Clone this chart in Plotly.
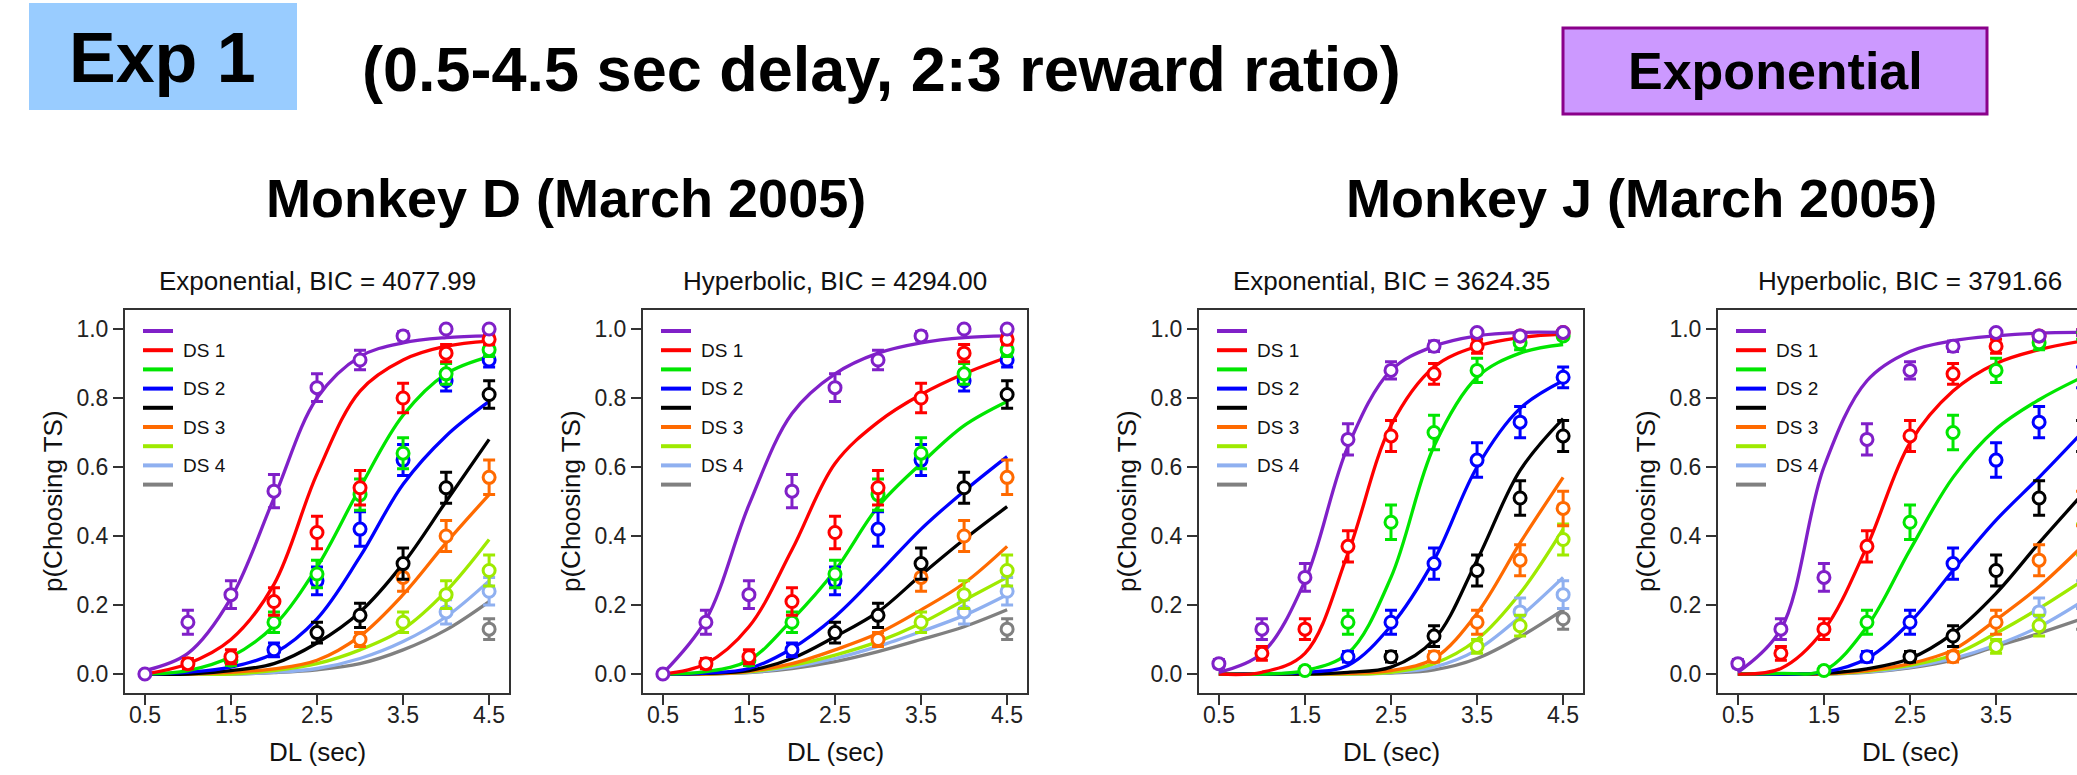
import plotly.graph_objects as go

# ---------------- data ----------------
DELAYS = [0.5, 1.0, 1.5, 2.0, 2.5, 3.0, 3.5, 4.0, 4.5]
X_TICKS = [0.5, 1.5, 2.5, 3.5, 4.5]
Y_TICKS = [0.0, 0.2, 0.4, 0.6, 0.8, 1.0]
COLORS = ["#8020C8", "#FF0000", "#00E600", "#0000FF", "#000000",
          "#FF6A00", "#9EEA00", "#8FB0F0", "#808080"]
LEGEND_LABELS = ["", "DS 1", "", "DS 2", "", "DS 3", "", "DS 4", ""]

# observed choice proportions (series i starts at DELAYS[i])
MONKEY_D_P = [
    [0.0, 0.15, 0.23, 0.53, 0.83, 0.91, 0.98, 1.0, 1.0],
    [0.03, 0.05, 0.21, 0.41, 0.54, 0.80, 0.93, 0.97],
    [0.04, 0.15, 0.29, 0.52, 0.64, 0.87, 0.94],
    [0.07, 0.27, 0.42, 0.62, 0.85, 0.91],
    [0.12, 0.17, 0.32, 0.54, 0.81],
    [0.10, 0.28, 0.40, 0.57],
    [0.15, 0.23, 0.30],
    [0.18, 0.24],
    [0.13],
]
MONKEY_D_ERR = [
    [0.005, 0.035, 0.04, 0.048, 0.04, 0.028, 0.012, 0.005, 0.005],
    [0.015, 0.02, 0.04, 0.047, 0.05, 0.043, 0.025, 0.015],
    [0.015, 0.03, 0.04, 0.045, 0.045, 0.03, 0.02],
    [0.02, 0.04, 0.05, 0.045, 0.03, 0.02],
    [0.03, 0.035, 0.045, 0.045, 0.04],
    [0.02, 0.04, 0.045, 0.05],
    [0.03, 0.04, 0.045],
    [0.035, 0.04],
    [0.03],
]
MONKEY_J_P = [
    [0.03, 0.13, 0.28, 0.68, 0.88, 0.95, 0.99, 0.98, 0.99],
    [0.06, 0.13, 0.37, 0.69, 0.87, 0.95, 0.98, 0.99],
    [0.01, 0.15, 0.44, 0.70, 0.88, 0.96, 0.98],
    [0.05, 0.15, 0.32, 0.62, 0.73, 0.86],
    [0.05, 0.11, 0.30, 0.51, 0.69],
    [0.05, 0.15, 0.33, 0.48],
    [0.08, 0.14, 0.39],
    [0.18, 0.23],
    [0.16],
]
MONKEY_J_ERR = [
    [0.012, 0.03, 0.04, 0.045, 0.025, 0.015, 0.008, 0.01, 0.008],
    [0.02, 0.03, 0.045, 0.045, 0.03, 0.02, 0.01, 0.008],
    [0.01, 0.035, 0.05, 0.05, 0.035, 0.02, 0.01],
    [0.015, 0.035, 0.045, 0.05, 0.045, 0.03],
    [0.015, 0.03, 0.045, 0.05, 0.045],
    [0.015, 0.035, 0.045, 0.05],
    [0.02, 0.03, 0.045],
    [0.04, 0.04],
    [0.03],
]

# fitted model curves, read at DELAYS
FIT_D_EXP = [
    [0.01, 0.06, 0.22, 0.51, 0.80, 0.92, 0.96, 0.975, 0.98],
    [0.0, 0.03, 0.10, 0.26, 0.58, 0.82, 0.91, 0.95, 0.965],
    [0.0, 0.01, 0.05, 0.14, 0.31, 0.54, 0.75, 0.87, 0.92],
    [0.0, 0.005, 0.02, 0.06, 0.16, 0.34, 0.55, 0.69, 0.79],
    [0.0, 0.0, 0.01, 0.03, 0.09, 0.18, 0.32, 0.50, 0.68],
    [0.0, 0.0, 0.005, 0.015, 0.04, 0.11, 0.23, 0.38, 0.52],
    [0.0, 0.0, 0.0, 0.01, 0.03, 0.07, 0.13, 0.24, 0.39],
    [0.0, 0.0, 0.0, 0.005, 0.016, 0.045, 0.094, 0.166, 0.27],
    [0.0, 0.0, 0.0, 0.004, 0.012, 0.03, 0.07, 0.128, 0.21],
]
FIT_D_HYP = [
    [0.002, 0.157, 0.49, 0.755, 0.87, 0.93, 0.96, 0.975, 0.98],
    [0.0, 0.03, 0.137, 0.36, 0.61, 0.73, 0.81, 0.87, 0.918],
    [0.0, 0.007, 0.04, 0.157, 0.30, 0.485, 0.61, 0.72, 0.79],
    [0.0, 0.003, 0.016, 0.074, 0.166, 0.29, 0.42, 0.53, 0.63],
    [0.0, 0.002, 0.01, 0.045, 0.108, 0.18, 0.287, 0.39, 0.485],
    [0.0, 0.0, 0.008, 0.03, 0.07, 0.118, 0.186, 0.263, 0.37],
    [0.0, 0.0, 0.006, 0.025, 0.055, 0.094, 0.147, 0.214, 0.28],
    [0.0, 0.0, 0.005, 0.02, 0.045, 0.08, 0.123, 0.17, 0.23],
    [0.0, 0.0, 0.004, 0.016, 0.036, 0.065, 0.10, 0.137, 0.186],
]
FIT_J_EXP = [
    [0.005, 0.06, 0.27, 0.66, 0.88, 0.95, 0.98, 0.99, 0.99],
    [0.0, 0.005, 0.06, 0.35, 0.72, 0.89, 0.95, 0.975, 0.985],
    [0.0, 0.0, 0.01, 0.06, 0.28, 0.66, 0.86, 0.93, 0.955],
    [0.0, 0.0, 0.005, 0.025, 0.14, 0.33, 0.60, 0.77, 0.85],
    [0.0, 0.0, 0.0, 0.005, 0.02, 0.10, 0.33, 0.59, 0.74],
    [0.0, 0.0, 0.0, 0.002, 0.01, 0.045, 0.176, 0.38, 0.57],
    [0.0, 0.0, 0.0, 0.0, 0.005, 0.03, 0.10, 0.234, 0.42],
    [0.0, 0.0, 0.0, 0.0, 0.004, 0.02, 0.07, 0.166, 0.28],
    [0.0, 0.0, 0.0, 0.0, 0.003, 0.012, 0.045, 0.108, 0.186],
]
FIT_J_HYP = [
    [0.005, 0.13, 0.60, 0.85, 0.935, 0.966, 0.98, 0.988, 0.99],
    [0.0, 0.016, 0.128, 0.37, 0.67, 0.82, 0.90, 0.94, 0.965],
    [0.0, 0.002, 0.01, 0.137, 0.36, 0.57, 0.71, 0.795, 0.86],
    [0.0, 0.0, 0.005, 0.045, 0.15, 0.30, 0.446, 0.57, 0.70],
    [0.0, 0.0, 0.002, 0.015, 0.045, 0.118, 0.234, 0.38, 0.52],
    [0.0, 0.0, 0.0, 0.01, 0.03, 0.07, 0.157, 0.253, 0.37],
    [0.0, 0.0, 0.0, 0.008, 0.025, 0.055, 0.118, 0.19, 0.27],
    [0.0, 0.0, 0.0, 0.006, 0.02, 0.045, 0.084, 0.137, 0.21],
    [0.0, 0.0, 0.0, 0.005, 0.018, 0.04, 0.08, 0.118, 0.16],
]

PANEL_TITLES = ["Exponential, BIC = 4077.99", "Hyperbolic, BIC = 4294.00",
                "Exponential, BIC = 3624.35", "Hyperbolic, BIC = 3791.66"]

# ---------------- layout geometry (pixels) ----------------
W, H = 2077, 775
FONT = "Liberation Sans, Arial, sans-serif"
PANEL_PX = [(125, 509), (643, 1027), (1199, 1583), (1718, 2077)]
BOX_TOP, BOX_BOT = 310, 693
PX_PER_UNIT = 384 / (4.731 - 0.269)
X0 = 0.269
Y_RANGE = [-0.055, 1.055]


def px(x):
    return x / W


def py(y):
    return 1 - y / H


panels = [
    (FIT_D_EXP, MONKEY_D_P, MONKEY_D_ERR),
    (FIT_D_HYP, MONKEY_D_P, MONKEY_D_ERR),
    (FIT_J_EXP, MONKEY_J_P, MONKEY_J_ERR),
    (FIT_J_HYP, MONKEY_J_P, MONKEY_J_ERR),
]

fig = go.Figure()
shapes = []
annotations = []
TICK_FONT = dict(family=FONT, size=23, color="#222222")
axis_style = dict(showline=True, linecolor="#333333", linewidth=2, ticks="outside",
                  ticklen=10, tickwidth=2, tickcolor="#333333", showgrid=False,
                  zeroline=False, tickfont=TICK_FONT, fixedrange=True)

for k, (fit, pts, err) in enumerate(panels):
    n = k + 1
    xa = "x" if n == 1 else f"x{n}"
    ya = "y" if n == 1 else f"y{n}"
    left, right = PANEL_PX[k]
    wpx = right - left

    for i in reversed(range(9)):
        fig.add_trace(go.Scatter(
            x=DELAYS, y=fit[i], mode="lines", xaxis=xa, yaxis=ya,
            line=dict(color=COLORS[i], width=3.3, shape="spline", smoothing=1.0),
            showlegend=False, hoverinfo="skip"))
    for i in reversed(range(9)):
        fig.add_trace(go.Scatter(
            x=DELAYS[i:], y=pts[i], mode="markers", xaxis=xa, yaxis=ya,
            marker=dict(symbol="circle", size=12, color="white",
                        line=dict(color=COLORS[i], width=3)),
            error_y=dict(type="data", array=err[i], color=COLORS[i],
                         thickness=3, width=6),
            showlegend=False, cliponaxis=False))

    xr = [X0, X0 + wpx / PX_PER_UNIT]
    fig.layout[f"xaxis{'' if n == 1 else n}"] = dict(
        axis_style, domain=[px(left), px(right)], range=xr, anchor=ya,
        tickvals=X_TICKS, mirror=True, showticklabels=False)
    fig.layout[f"yaxis{'' if n == 1 else n}"] = dict(
        axis_style, domain=[py(BOX_BOT), py(BOX_TOP)], range=Y_RANGE, anchor=xa,
        tickvals=Y_TICKS, tickformat=".1f", mirror=(n < 4))

    # x tick labels placed on the axis scale
    for t in X_TICKS:
        annotations.append(dict(xref=xa, yref="paper", x=t, y=py(715),
                                text=f"{t:.1f}", showarrow=False,
                                xanchor="center", yanchor="middle",
                                font=TICK_FONT))

    # in-plot legend
    for i in range(9):
        yy = (BOX_BOT - (331 + 19.2 * i)) / (BOX_BOT - BOX_TOP)
        shapes.append(dict(type="line", xref=f"{xa} domain", yref=f"{ya} domain",
                           x0=18 / wpx, x1=48 / wpx, y0=yy, y1=yy,
                           line=dict(color=COLORS[i], width=4)))
        if LEGEND_LABELS[i]:
            annotations.append(dict(xref=f"{xa} domain", yref=f"{ya} domain",
                                    x=56 / wpx, y=yy, xanchor="left", yanchor="middle",
                                    text=LEGEND_LABELS[i], showarrow=False,
                                    font=dict(family=FONT, size=19, color="#111111")))

    cx = left + 192
    annotations.append(dict(xref="paper", yref="paper", x=px(cx), y=py(281),
                            text=PANEL_TITLES[k], showarrow=False,
                            xanchor="center", yanchor="middle",
                            font=dict(family=FONT, size=26, color="#111111")))
    annotations.append(dict(xref="paper", yref="paper", x=px(cx), y=py(752),
                            text="DL (sec)", showarrow=False,
                            xanchor="center", yanchor="middle",
                            font=dict(family=FONT, size=26, color="#111111")))
    annotations.append(dict(xref="paper", yref="paper", x=px(left - 72), y=py(501),
                            text="p(Choosing TS)", showarrow=False, textangle=-90,
                            xanchor="center", yanchor="middle",
                            font=dict(family=FONT, size=26, color="#111111")))

# header boxes
shapes.append(dict(type="rect", xref="paper", yref="paper", x0=px(29), x1=px(297),
                   y0=py(110), y1=py(3), fillcolor="#99CCFF", line=dict(width=0),
                   layer="below"))
shapes.append(dict(type="rect", xref="paper", yref="paper", x0=px(1563), x1=px(1987),
                   y0=py(114), y1=py(28), fillcolor="#CC99FF",
                   line=dict(color="#8A008A", width=3), layer="below"))

header = [
    ("Exp 1", 162, 58, 70),
    ("(0.5-4.5 sec delay, 2:3 reward ratio)", 881, 69, 63),
    ("Exponential", 1775, 71, 52),
    ("Monkey D (March 2005)", 566, 198, 54),
    ("Monkey J (March 2005)", 1641, 198, 54),
]
for txt, x, y, s in header:
    annotations.append(dict(xref="paper", yref="paper", x=px(x), y=py(y), text=f"<b>{txt}</b>",
                            showarrow=False, xanchor="center", yanchor="middle",
                            font=dict(family=FONT, size=s, color="#000000")))

fig.update_layout(width=W, height=H, margin=dict(l=0, r=0, t=0, b=0),
                  paper_bgcolor="white", plot_bgcolor="white",
                  shapes=shapes, annotations=annotations, showlegend=False)

fig.write_html("out.html", config={"displayModeBar": False})
